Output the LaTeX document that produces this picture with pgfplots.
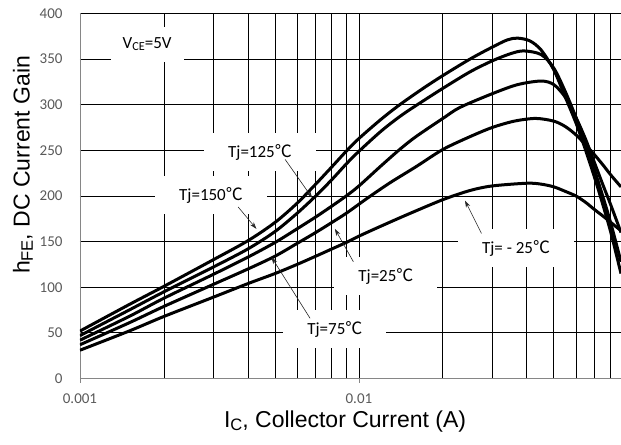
\documentclass[border=0pt]{standalone}
\usepackage{pgfplots}
\pgfplotsset{compat=1.18}
\usetikzlibrary{arrows.meta}
\usepackage{fontspec}
\setmainfont{Carlito}
\newfontfamily\arial{Liberation Sans}
\newfontfamily\cjk{Noto Sans CJK SC}
\definecolor{tickgray}{RGB}{89,89,89}
\definecolor{axgray}{RGB}{134,134,134}
\newcommand{\degc}{{\cjk ℃}}
\newcommand{\lo}[1]{\raisebox{-0.25ex}{\scalebox{0.72}{#1}}}
\tikzset{
    lbl/.style={fill=white, inner xsep=24pt, inner ysep=11pt, font=\fontsize{17}{17}\selectfont},
    arr/.style={draw=black!85, line width=0.6pt, -{Stealth[length=7pt,width=4.5pt]}},
    curve/.style={black, line width=3pt, smooth, tension=0.5},
}

\begin{document}
\begin{tikzpicture}
\begin{axis}[
    scale only axis,
    width=541pt, height=365pt,
    xmode=log,
    xmin=0.001, xmax=0.087,
    ymin=0, ymax=400,
    axis x line*=bottom, axis y line*=left,
    axis line style={axgray, line width=0.8pt, -},
    xtick={0.001,0.01}, xticklabels={0.001,0.01},
    minor xtick={0.002,0.003,0.004,0.005,0.006,0.007,0.008,0.009,0.01,0.02,0.03,0.04,0.05,0.06,0.07,0.08},
    ytick={0,50,...,400},
    minor ytick={50,100,...,400},
    xminorgrids=true, yminorgrids=true,
    minor grid style={black, line width=0.8pt},
    tick align=outside,
    major tick length=4pt, minor tick length=0pt,
    xtick style={axgray, line width=0.6pt},
    ytick style={draw=none},
    every tick label/.append style={font=\fontsize{15}{15}\selectfont, text=tickgray},
    xticklabel style={yshift=-8pt},
    yticklabel style={xshift=-10pt},
    /pgf/number format/assume math mode=true,
    label style={font=\arial\fontsize{23}{23}\selectfont},
    xlabel={I\lo{C}, Collector Current (A)},
    ylabel={h\lo{FE}, DC Current Gain},
    xlabel style={at={(ticklabel cs:0.49)}},
    ylabel style={at={(ticklabel cs:0.585)}},
]

% Tj = 150 C
\addplot[curve] coordinates {
(0.001,52)(0.0015,81)(0.002,101)(0.003,130)(0.004,151)(0.005,171)(0.006,192)(0.007,213)(0.008,232)(0.009,249)(0.01,263)(0.012,284)(0.014,300)(0.017,318)(0.02,332)(0.025,350)(0.03,363)(0.034,371)(0.037,373)(0.041,370)(0.045,360)(0.05,338)(0.055,308)(0.06,280)(0.065,250)(0.07,220)(0.075,190)(0.08,160)(0.087,115)
};
% Tj = 125 C
\addplot[curve] coordinates {
(0.001,47)(0.0015,75)(0.002,95)(0.003,122)(0.004,142)(0.005,161)(0.006,181)(0.007,200)(0.008,218)(0.009,235)(0.01,249)(0.012,271)(0.014,287)(0.016,299)(0.02,318)(0.025,336)(0.03,348)(0.035,356)(0.039,359)(0.045,355)(0.05,340)(0.055,314)(0.06,286)(0.065,257)(0.07,228)(0.075,199)(0.08,170)(0.087,128)
};
% Tj = 75 C
\addplot[curve] coordinates {
(0.001,42)(0.0015,68)(0.002,88)(0.003,114)(0.004,133)(0.005,149)(0.006,164)(0.007,177)(0.008,189)(0.009,200)(0.01,211)(0.012,233)(0.014,251)(0.016,265)(0.02,285)(0.023,297)(0.03,312)(0.037,322)(0.045,326)(0.05,322)(0.055,308)(0.06,286)(0.065,262)(0.07,236)(0.075,212)(0.08,190)(0.087,160)
};
% Tj = 25 C
\addplot[curve] coordinates {
(0.001,37)(0.0015,61)(0.002,79)(0.003,103)(0.004,120)(0.005,134)(0.006,148)(0.007,160)(0.008,171)(0.009,181)(0.01,191)(0.011,200)(0.013,215)(0.016,232)(0.02,251)(0.025,265)(0.03,275)(0.036,282)(0.043,285)(0.05,282)(0.055,276)(0.06,267)(0.065,256)(0.07,245)(0.075,234)(0.08,223)(0.087,210)
};
% Tj = -25 C
\addplot[curve] coordinates {
(0.001,31)(0.0015,52)(0.002,68)(0.003,89)(0.004,104)(0.005,115)(0.006,125)(0.007,134)(0.008,142)(0.009,149)(0.01,156)(0.012,167)(0.015,180)(0.02,196)(0.025,206)(0.03,211)(0.04,214)(0.045,213)(0.05,210)(0.055,205)(0.06,200)(0.065,193)(0.07,185)(0.075,178)(0.08,171)(0.087,162)
};

\node[lbl, inner xsep=12pt] at (axis cs:0.00174,366) {V\lo{CE}=5V};
\node[lbl] at (axis cs:0.00442,248) {Tj=125\degc};
\node[lbl] at (axis cs:0.00295,201) {Tj=150\degc};
\node[lbl] at (axis cs:0.0125,112) {Tj=25\degc};
\node[lbl] at (axis cs:0.0082,54) {Tj=75\degc};
\node[lbl] at (axis cs:0.0366,143) {Tj= - 25\degc};

\draw[arr] (axis cs:0.00544,240) -- (axis cs:0.0068,198);
\draw[arr] (axis cs:0.00369,188) -- (axis cs:0.00429,164);
\draw[arr] (axis cs:0.00955,128) -- (axis cs:0.0082,164);
\draw[arr] (axis cs:0.00668,66) -- (axis cs:0.00486,133);
\draw[arr] (axis cs:0.0275,159) -- (axis cs:0.0240,195);
\end{axis}
\pgfresetboundingbox
\path ([shift={(-80pt,-65.7pt)}]current axis.south west) rectangle ([shift={(0pt,13.5pt)}]current axis.north east);
\end{tikzpicture}
\end{document}
